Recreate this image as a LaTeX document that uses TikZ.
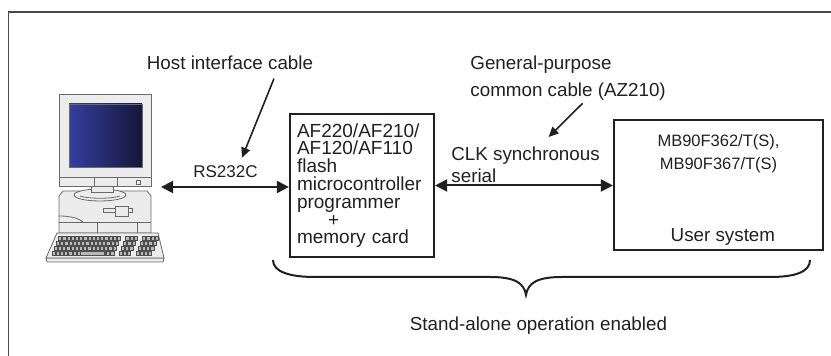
\documentclass[tikz,border=0pt]{standalone}
\usepackage{fontspec}
\setmainfont{Liberation Sans}
\usetikzlibrary{arrows.meta,positioning}
\definecolor{ink}{HTML}{231F20}
\definecolor{edge}{HTML}{4A4A4A}
\definecolor{case}{HTML}{ECECEC}
\definecolor{trim}{HTML}{6A6A6A}
\definecolor{scrA}{HTML}{353E9E}
\definecolor{scrB}{HTML}{15163A}
\definecolor{keys}{HTML}{4E4E4E}

\begin{document}
\begin{tikzpicture}[x=0.5pt,y=-0.5pt,
  every node/.style={text=ink,inner sep=0pt},
  lbl/.style={font=\fontsize{9.4}{13.5}\selectfont,align=left},
  box/.style={draw=ink,line width=1.1pt},
  arr/.style={{Triangle[length=6pt,width=6pt]}-{Triangle[length=6pt,width=6pt]},line width=1pt,draw=ink},
  ptr/.style={-{Triangle[length=5pt,width=4.5pt]},line width=0.8pt,draw=ink},
  pc/.style={draw=trim,line width=0.4pt,fill=case}]
  \useasboundingbox (0,0) rectangle (831,356);
  \draw[edge,line width=0.7pt] (831,12) -- (8.5,12) -- (8.5,356);

  % host computer
  \draw[pc] (63,191) -- (147,191) -- (151,196) -- (151,233) -- (59,233) -- (59,196) -- cycle;
  \draw[trim,line width=0.4pt] (59,216) .. controls (72,216) and (80,219) .. (83,222);
  \draw[trim,line width=0.4pt] (59,222) -- (151,222) (97,222) -- (97,233) (137,222) -- (137,233);
  \draw[pc] (103,208) rectangle (132,212);
  \draw[pc] (115,206) rectangle (128,216);
  \draw[pc] (100,195) ellipse [x radius=26,y radius=6];
  \draw[trim,line width=0.4pt] (80,196) .. controls (88,199) and (112,199) .. (120,196);
  \draw[pc] (91,185) rectangle (113,192);
  \draw[pc] (59,94) rectangle (151,186);
  \draw[draw=trim,left color=scrA,right color=scrB] (69,104) rectangle (142,167);
  \draw[trim,line width=0.4pt] (59,177) -- (151,177) (94,177) -- (94,186) (117,177) -- (117,186);
  \draw[pc] (136,180) rectangle (140,184);
  % keyboard
  \draw[pc] (46,258) -- (164,258) -- (163,262) -- (47,262) -- cycle;
  \draw[pc] (57,233) -- (158,233) -- (164,258) -- (46,258) -- cycle;
  \foreach \r in {0,...,3}
    \foreach \k in {0,...,14,16,17,18,20,21,22,23}
      \filldraw[fill=gray!55,draw=keys,line width=0.25pt] ({58.5-2.2*\r+4.2*\k},{236.5+5*\r}) rectangle +(3.2,3.8);
  \filldraw[fill=gray!55,draw=keys,line width=0.25pt] (80,251.5) rectangle (104,255.3);
  \coordinate (pcport) at (161,187);

  % programmer and target
  \node[box,minimum width=72pt,minimum height=71.5pt,
        font=\fontsize{9.5}{8.9}\selectfont,align=left,text width=65pt] (prog) at (362,185.5)
    {AF220/AF210/\\AF120/AF110\\flash\\microcontroller\\programmer\\\hspace*{15.5pt}+\\memory card};
  \node[box,minimum width=104.5pt,minimum height=65pt] (usr) at (718.5,185) {};
  \node[font=\fontsize{8.25}{11.5}\selectfont,align=center,below=7.5pt of usr.north] (chip)
    {MB90F362/T(S),\\MB90F367/T(S)};
  \node[lbl,above=2.5pt of usr.south,xshift=2.2pt] (usys) {User system};

  % links
  \draw[arr] (pcport) -- (prog.west |- pcport);
  \draw[arr] (prog.east) -- (prog.east -| usr.west);
  \node[font=\fontsize{8.5}{10}\selectfont,anchor=base] (rs) at (225.5,178) {RS232C};
  \node[lbl,anchor=north west,font=\fontsize{9.4}{11}\selectfont] (clk) at (451,146) {CLK synchronous\\serial};

  % cable labels
  \node[lbl,anchor=base] (host) at (230,70) {Host interface cable};
  \node[lbl,anchor=north west] (gp) at (470,55) {General-purpose\\common cable (AZ210)};
  \draw[ptr] ([xshift=22pt,yshift=-4pt]host.south) -- ([xshift=8.25pt,yshift=4pt]rs.north);
  \draw[ptr] ([xshift=7.25pt,yshift=-1.5pt]gp.south) -- ([xshift=11.5pt,yshift=4.5pt]clk.north);

  % brace
  \draw[ink,line width=1pt] (273,260) .. controls (273,272) and (290,277) .. (315,277) -- (490,277)
    .. controls (515,277) and (524,283) .. (526,295) .. controls (528,283) and (537,277) .. (562,277)
    -- (770,277) .. controls (795,277) and (810,272) .. (810,260);
  \node[lbl,anchor=base] (alone) at (538.5,330.7) {Stand-alone operation enabled};
\end{tikzpicture}
\end{document}
